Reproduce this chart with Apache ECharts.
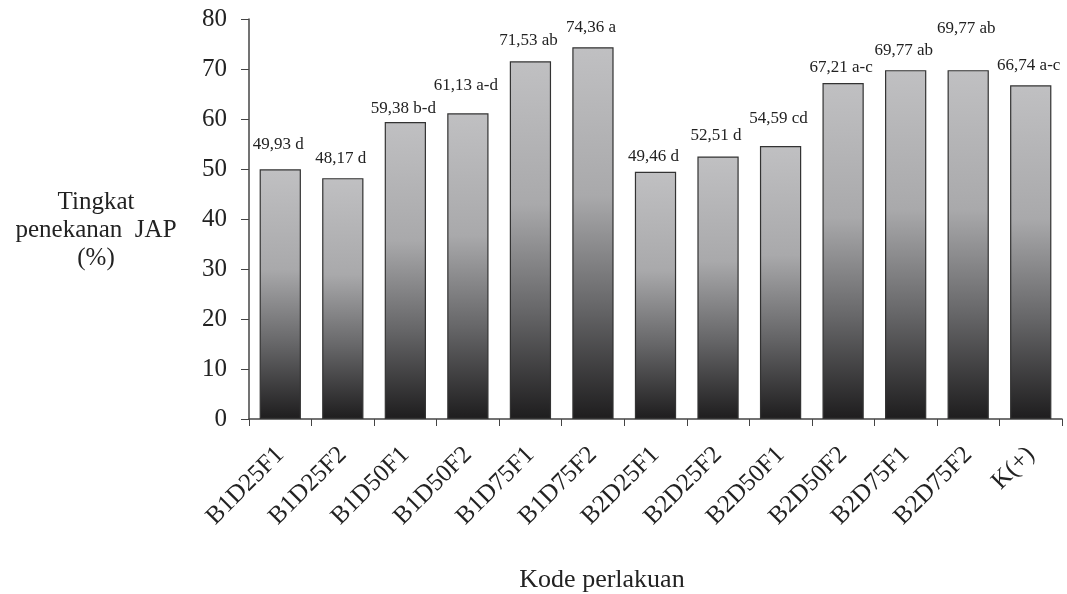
<!DOCTYPE html>
<html>
<head>
<meta charset="utf-8">
<script src="https://cdn.jsdelivr.net/npm/echarts@6/dist/echarts.min.js"></script>
<style>html,body{margin:0;padding:0;background:#fff}#c{width:1067px;height:594px}</style>
</head>
<body>
<div id="c"></div>
<script>
var categories = ['B1D25F1','B1D25F2','B1D50F1','B1D50F2','B1D75F1','B1D75F2','B2D25F1','B2D25F2','B2D50F1','B2D50F2','B2D75F1','B2D75F2','K(+)'];
var values = [49.93, 48.17, 59.38, 61.13, 71.53, 74.36, 49.46, 52.51, 54.59, 67.21, 69.77, 69.77, 66.74];
var notations = ['d','d','b-d','a-d','ab','a','d','d','cd','a-c','ab','ab','a-c'];
var yTicks = [0,10,20,30,40,50,60,70,80];
var labelGap = [16,11,5,19,12,11,7,12,19,7,11,33,11];

var font = '"Liberation Serif","DejaVu Serif",serif';
var chart = echarts.init(document.getElementById('c'));
var barColor = {
  type: 'linear', x: 0, y: 0, x2: 0, y2: 1,
  colorStops: [
    {offset: 0, color: '#c0c0c2'},
    {offset: 0.4, color: '#a9a9ab'},
    {offset: 0.7, color: '#666668'},
    {offset: 1, color: '#1e1d1e'}
  ]
};
chart.setOption({
  animation: false,
  grid: {left: 249, right: 5, top: 19, bottom: 175, containLabel: false},
  xAxis: {
    type: 'category',
    data: categories,
    axisLine: {lineStyle: {color: '#444', width: 1.5}},
    axisTick: {show: true, length: 7, alignWithLabel: false, lineStyle: {color: '#444'}},
    axisLabel: {rotate: 45, margin: 32, fontFamily: font, fontSize: 25, color: '#222', interval: 0}
  },
  yAxis: {
    type: 'value',
    min: yTicks[0], max: yTicks[yTicks.length - 1], interval: 10,
    splitLine: {show: false},
    axisLine: {show: true, lineStyle: {color: '#444', width: 1.5}},
    axisTick: {show: true, length: 8, lineStyle: {color: '#444'}},
    axisLabel: {margin: 22, fontFamily: font, fontSize: 25, color: '#222'}
  },
  graphic: [
    {type: 'text', x: 602, y: 580, style: {text: 'Kode perlakuan', font: '26px ' + font, fill: '#222', align: 'center', verticalAlign: 'middle'}},
    {type: 'text', x: 96, y: 230, style: {text: 'Tingkat\npenekanan  JAP\n(%)', font: '25px ' + font, fill: '#222', align: 'center', verticalAlign: 'middle', lineHeight: 28}}
  ],
  series: [{
    type: 'bar',
    barCategoryGap: '34%',
    data: values.map(function (v, i) {
      return {value: v, label: {distance: labelGap[i]}};
    }),
    itemStyle: {color: barColor, borderColor: '#333', borderWidth: 1.2},
    label: {
      show: true, position: 'top', offset: [-2, 0], fontFamily: font, fontSize: 17, color: '#222',
      formatter: function (p) {
        return p.value.toFixed(2).replace('.', ',') + ' ' + notations[p.dataIndex];
      }
    }
  }]
});
</script>
</body>
</html>
